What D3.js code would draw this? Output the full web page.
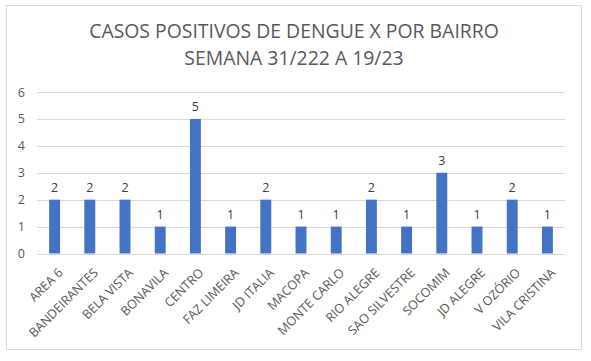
<!DOCTYPE html>
<html><head><meta charset="utf-8">
<script src="https://cdn.jsdelivr.net/npm/d3@7"></script>
<style>body{margin:0;background:#fff;} text{font-family:"Open Sans",Calibri,sans-serif;}</style>
</head><body>
<svg id="c" width="591" height="361"></svg>
<script>
const categories = ["AREA 6","BANDEIRANTES","BELA VISTA","BONAVILA","CENTRO","FAZ LIMEIRA","JD ITALIA","MACOPA","MONTE CARLO","RIO ALEGRE","SAO SILVESTRE","SOCOMIM","JD ALEGRE","V OZÓRIO","VILA CRISTINA"];
const values = [2,2,2,1,5,1,2,1,1,2,1,3,1,2,1];
const yTicks = [0,1,2,3,4,5,6];
const titleLines = ["CASOS POSITIVOS DE DENGUE X POR BAIRRO","SEMANA 31/222 A 19/23"];

const svg = d3.select("#c");
svg.append("rect").attr("x",6.5).attr("y",5.5).attr("width",575).attr("height",344)
  .attr("fill","#fff").attr("stroke","#d9d9d9");

const x = d3.scaleBand().domain(categories).range([37,565]).paddingInner(0.69).paddingOuter(0.345);
const y = d3.scaleLinear().domain([0,6]).range([253.5,92]);

// gridlines
svg.append("g").selectAll("line").data(yTicks).join("line")
  .attr("x1",37).attr("x2",565).attr("y1",d=>Math.round(y(d))+0.5).attr("y2",d=>Math.round(y(d))+0.5)
  .attr("stroke","#d9d9d9").attr("stroke-width",1);

// y axis labels
const ya = svg.append("g").attr("transform","translate(25,0)")
  .call(d3.axisLeft(y).tickValues(yTicks).tickFormat(d3.format("d")).tickSize(0).tickPadding(0));
ya.select(".domain").remove();
ya.selectAll("text").attr("fill","#595959").style("font-size","12.5px").style("font-family","'Open Sans',sans-serif");

// bars
svg.append("g").selectAll("rect").data(values).join("rect")
  .attr("x",(d,i)=>x(categories[i])).attr("width",x.bandwidth())
  .attr("y",d=>y(d)).attr("height",d=>y(0)-y(d)).attr("fill","#4472c4");

// data labels
svg.append("g").selectAll("text").data(values).join("text")
  .attr("x",(d,i)=>x(categories[i])+x.bandwidth()/2).attr("y",d=>y(d)-8)
  .attr("text-anchor","middle").attr("fill","#404040").style("font-size","12.5px").text(d=>d);

// x axis labels
const xa = svg.append("g").attr("transform",`translate(0,${y(0)})`)
  .call(d3.axisBottom(x).tickSize(0).tickPadding(0));
xa.select(".domain").remove();
xa.selectAll("text").attr("fill","#595959").style("font-size","12.6px").style("font-family","'Open Sans',sans-serif")
  .attr("text-anchor","end").attr("dy","0").attr("transform","translate(9,20) rotate(-45)");

// title
svg.append("g").selectAll("text").data(titleLines).join("text")
  .attr("x",294).attr("y",(d,i)=>38+i*26.5).attr("text-anchor","middle")
  .attr("fill","#595959").style("font-size","19.4px").text(d=>d);
</script>
</body></html>
